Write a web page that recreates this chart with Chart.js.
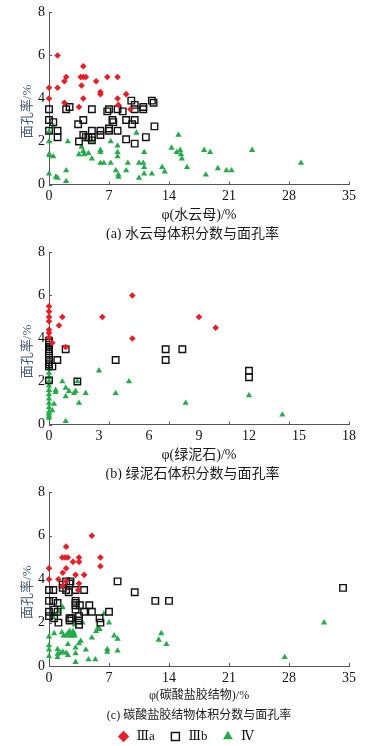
<!DOCTYPE html>
<html>
<head>
<meta charset="utf-8">
<script src="https://cdn.jsdelivr.net/npm/chart.js@4.4.1/dist/chart.umd.min.js"></script>
<style>
  html, body { margin: 0; padding: 0; background: #fff; overflow: hidden; }
  .panel { position: relative; width: 385px; }
</style>
</head>
<body>
<div class="panel" style="height:240px"><canvas id="chartA"></canvas></div>
<div class="panel" style="height:240px"><canvas id="chartB"></canvas></div>
<div class="panel" style="height:273px"><canvas id="chartC"></canvas></div>
<script>
// tick labels
const xTicks35 = [0, 7, 14, 21, 28, 35];
const xTicks18 = [0, 3, 6, 9, 12, 15, 18];
const yTicks = [0, 2, 4, 6, 8];
// tick marks on panel (b) do not line up with its labels in the original
const xMarks18 = [0, 3.6, 7.2, 10.8, 14.4, 18];

const seriesNames = ['Ⅲa', 'Ⅲb', 'Ⅳ'];

// (a) 水云母 [volume fraction %, face porosity %]
const illiteIIIa = [[0,4.5],[0,4.0],[1.0,6.0],[1.0,4.5],[2.0,5.0],[1.8,4.8],[1.8,3.8],[3.5,3.6],[4.0,5.5],[3.7,5.0],[4.0,5.0],[4.3,5.0],[3.8,4.6],[4.0,4.0],[5.5,4.8],[6.0,4.3],[6.0,4.2],[6.8,5.0],[8.0,5.0],[8.0,4.0],[8.1,3.7],[9.0,4.2],[9.5,3.5]];
const illiteIIIb = [[0,3.5],[0,3.0],[0,2.5],[0.5,2.9],[1.0,2.5],[1.0,2.2],[2.0,3.5],[2.4,3.6],[3.4,2.8],[4.0,3.0],[3.5,2.0],[4.0,2.3],[4.3,2.2],[4.6,2.2],[5.0,3.5],[5.0,2.5],[5.0,2.2],[5.0,2.05],[6.0,2.5],[6.0,2.3],[6.8,3.4],[7.0,3.5],[7.0,2.6],[7.0,2.5],[7.4,3.0],[7.5,2.9],[8.0,3.5],[8.0,2.5],[8.6,3.4],[9.0,3.0],[9.0,2.1],[9.6,3.9],[9.7,2.8],[10.0,3.7],[10.0,3.5],[10.0,3.0],[10.0,1.9],[11.0,3.6],[11.0,3.5],[11.3,2.2],[12.0,3.9],[12.2,3.8],[12.3,2.7]];
const illiteIV = [[0,2.0],[0,2.45],[0,1.4],[0.1,1.35],[0,0.5],[0.5,2.7],[0.5,1.3],[0.8,0.35],[1.0,0.3],[2.0,0.65],[2.0,0.15],[2.2,2.0],[3.5,1.4],[3.8,1.75],[4.0,1.55],[4.1,1.4],[4.6,1.45],[5.0,2.0],[5.0,1.2],[6.0,1.6],[6.0,1.5],[6.0,1.0],[6.4,1.0],[7.2,2.0],[7.2,1.0],[7.8,0.65],[8.0,1.8],[8.0,1.5],[8.0,1.3],[8.1,0.45],[8.1,0.35],[9.2,1.0],[9.0,0.65],[10.2,2.4],[10.5,1.0],[11.0,1.0],[10.5,0.3],[11.1,1.5],[11.1,0.8],[11.1,0.5],[12.0,0.5],[13.2,0.8],[13.5,0.6],[14.3,1.7],[14.9,1.5],[15.1,2.3],[15.3,1.6],[15.4,1.4],[15.5,1.2],[16.1,0.8],[18.1,1.6],[18.8,1.5],[18.3,0.45],[19.7,0.75],[20.7,0.65],[21.3,0.65],[23.7,1.6],[29.4,1.0]];

// (b) 绿泥石
const chloriteIIIa = [[0,5.5],[0,5.25],[0,5.0],[0,4.8],[0,4.4],[0,4.25],[0,4.05],[0.2,3.8],[0.6,4.6],[0.8,5.0],[1.0,3.6],[3.2,5.0],[5.0,6.0],[5.0,4.0],[9.0,5.0],[10.0,4.5]];
const chloriteIIIb = [[0,3.9],[0,3.8],[0,3.7],[0,3.6],[0,3.5],[0,3.4],[0,3.3],[0,3.0],[0,2.9],[0,2.8],[0,2.7],[0,2.05],[0.2,2.7],[0.5,3.0],[1.0,3.5],[1.7,2.0],[4.0,3.0],[7.0,3.5],[7.0,3.0],[8.0,3.5],[12.0,2.5],[12.0,2.2]];
const chloriteIV = [[0,2.6],[0,2.4],[0,2.2],[0,2.0],[0,1.8],[0,1.6],[0,1.4],[0,1.2],[0,1.0],[0,0.8],[0,0.6],[0,0.5],[0,0.4],[0,0.3],[0.2,0.65],[0.3,0.95],[0.4,1.6],[0.4,1.5],[0.8,2.0],[1.0,1.7],[1.0,1.3],[1.0,0.15],[1.2,1.55],[1.5,1.45],[1.6,1.55],[1.7,2.0],[1.8,1.0],[2.2,1.45],[3.0,2.5],[4.0,1.45],[4.8,2.0],[8.2,1.0],[12.0,1.35],[14.0,0.45]];

// (c) 碳酸盐胶结物
const carbonateIIIa = [[0,4.5],[0,4.0],[1.1,4.0],[1.6,4.3],[1.55,5.0],[1.9,5.0],[2.2,5.0],[2.0,5.5],[2.0,4.5],[1.6,3.7],[2.0,3.9],[2.8,4.8],[3.1,4.2],[3.5,4.8],[3.5,5.0],[3.5,3.8],[4.1,4.2],[5.0,6.0],[6.0,5.0],[6.0,4.6],[3.4,3.5]];
const carbonateIIIb = [[0,3.5],[0,3.0],[0,2.5],[0,2.3],[0.5,3.5],[0.5,3.0],[0.6,2.6],[0.6,2.2],[1.0,2.9],[1.0,2.5],[1.1,2.0],[1.6,3.75],[1.6,3.6],[2.0,3.9],[2.0,3.5],[2.3,3.4],[2.5,3.9],[2.4,3.8],[2.4,2.2],[2.6,2.2],[2.4,2.1],[3.1,3.0],[3.1,2.9],[3.1,2.8],[3.1,2.6],[3.1,3.5],[3.6,2.8],[3.5,2.3],[3.5,2.1],[3.5,1.9],[4.1,3.5],[4.1,2.5],[4.7,2.8],[5.0,2.5],[5.9,2.2],[6.0,2.0],[7.0,2.5],[8.0,3.9],[10.0,3.4],[12.4,3.0],[14.0,3.0],[34.3,3.6]];
const carbonateIV = [[0,1.35],[0,0.95],[0,0.75],[0,0.45],[0.5,2.25],[0.6,1.5],[1.0,0.77],[1.0,0.55],[1.0,0.4],[1.1,2.5],[1.6,2.7],[1.5,1.55],[1.7,1.4],[1.3,0.6],[1.6,0.65],[2.0,1.4],[2.2,1.5],[2.4,1.6],[2.5,1.4],[2.7,1.4],[2.8,1.6],[2.9,1.5],[3.0,1.4],[2.2,1.0],[2.0,0.6],[2.2,0.5],[3.1,0.84],[3.1,0.58],[3.1,0.18],[3.5,1.04],[3.7,1.15],[3.0,1.9],[3.9,2.0],[4.3,0.75],[4.6,0.3],[5.0,1.3],[5.4,0.3],[5.5,1.6],[5.7,1.75],[5.9,1.7],[6.4,2.4],[6.8,0.77],[6.8,0.65],[7.0,2.0],[7.6,1.4],[8.0,1.25],[8.0,0.7],[12.8,1.2],[13.1,1.5],[13.7,1.0],[27.5,0.4],[32.1,2.0]];

const RED = '#ec1c24';
const GREEN = '#22ad48';
const AXIS = '#555';
const serif = "'Liberation Serif', 'DejaVu Serif', 'Noto Sans CJK SC', serif";
const cjk = "'Liberation Serif', 'Noto Sans CJK SC', sans-serif";

const toXY = arr => arr.map(p => ({ x: p[0], y: p[1] }));

function datasets(a, b, c) {
  return [
    { label: seriesNames[0], data: toXY(a), pointStyle: 'rectRot', radius: 3.3,
      backgroundColor: RED, borderColor: RED, borderWidth: 0, clip: false },
    { label: seriesNames[1], data: toXY(b), pointStyle: 'rect', radius: 4.6,
      backgroundColor: 'rgba(255,255,255,0)', borderColor: '#111', borderWidth: 1.4, clip: false },
    { label: seriesNames[2], data: toXY(c), pointStyle: 'triangle', radius: 3.6,
      backgroundColor: GREEN, borderColor: GREEN, borderWidth: 0, clip: false }
  ];
}

// short inward tick marks on both axes
function innerTicks(xMarks) {
  return {
    id: 'innerTicks',
    beforeDatasetsDraw(chart) {
      const { ctx, chartArea, scales } = chart;
      ctx.save();
      ctx.strokeStyle = AXIS;
      ctx.lineWidth = 1;
      ctx.beginPath();
      xMarks.forEach(v => {
        const px = Math.round(scales.x.getPixelForValue(v)) + 0.5;
        ctx.moveTo(px, chartArea.bottom);
        ctx.lineTo(px, chartArea.bottom - 3);
      });
      yTicks.forEach(v => {
        const py = Math.round(scales.y.getPixelForValue(v)) + 0.5;
        ctx.moveTo(chartArea.left, py);
        ctx.lineTo(chartArea.left + 3, py);
      });
      ctx.stroke();
      ctx.restore();
    }
  };
}

function makeChart(id, sets, cfg) {
  new Chart(document.getElementById(id), {
    type: 'scatter',
    data: { datasets: sets },
    options: {
      responsive: true,
      maintainAspectRatio: false,
      animation: false,
      events: [],
      layout: { padding: { top: 12, left: 0, right: cfg.padRight || 0, bottom: 0 } },
      plugins: {
        legend: {
          display: !!cfg.legend,
          position: 'bottom',
          weight: 3000,
          labels: {
            usePointStyle: true,
            boxHeight: 8,
            padding: 14,
            color: '#111',
            font: { family: serif, size: 13 }
          }
        },
        title: {
          display: true,
          position: 'bottom',
          fullSize: !cfg.legend,
          text: cfg.caption,
          color: '#1a1a1a',
          padding: cfg.captionPad,
          font: { family: cjk, size: cfg.textSize, weight: 'normal' }
        },
        tooltip: { enabled: false }
      },
      scales: {
        x: {
          type: 'linear',
          min: 0,
          max: cfg.xMax,
          afterBuildTicks: s => { s.ticks = cfg.xTicks.map(v => ({ value: v })); },
          afterFit: s => { s.height = 37.5; },
          grid: { display: false, drawTicks: false },
          border: { display: true, color: AXIS, width: 1 },
          ticks: { color: '#111', padding: 3.5, font: { family: serif, size: 14 } },
          title: {
            display: true,
            text: cfg.xTitle,
            color: '#1a1a1a',
            padding: { top: 0, bottom: cfg.xTitlePad },
            font: { family: cjk, size: cfg.textSize }
          }
        },
        y: {
          type: 'linear',
          min: 0,
          max: 8,
          afterBuildTicks: s => { s.ticks = yTicks.map(v => ({ value: v })); },
          afterFit: s => { s.width = 49; },
          grid: { display: false, drawTicks: false },
          border: { display: true, color: AXIS, width: 1 },
          ticks: { color: '#111', padding: 4, font: { family: serif, size: 14 } },
          title: {
            display: true,
            text: '面孔率/%\u3000\u3000',
            color: '#3f5b7c',
            padding: { top: 20, bottom: 0 },
            font: { family: cjk, size: 13 }
          }
        },
        pad: {
          position: 'right',
          display: true,
          grid: { display: false, drawTicks: false },
          border: { display: false },
          ticks: { display: false },
          afterFit: s => { s.width = 36 - (cfg.padRight || 0); }
        }
      }
    },
    plugins: [innerTicks(cfg.xMarks)]
  });
}

makeChart('chartA', datasets(illiteIIIa, illiteIIIb, illiteIV), {
  xMax: 35, xTicks: xTicks35, xMarks: xTicks35, textSize: 14,
  xTitle: 'φ(水云母)/%', xTitlePad: -1.7,
  caption: '(a) 水云母体积分数与面孔率', captionPad: { top: 4, bottom: -2.8 }
});
makeChart('chartB', datasets(chloriteIIIa, chloriteIIIb, chloriteIV), {
  xMax: 18, xTicks: xTicks18, xMarks: xMarks18, textSize: 14,
  xTitle: 'φ(绿泥石)/%', xTitlePad: -1.7,
  caption: '(b) 绿泥石体积分数与面孔率', captionPad: { top: 4, bottom: -2.8 }
});
makeChart('chartC', datasets(carbonateIIIa, carbonateIIIb, carbonateIV), {
  xMax: 35, xTicks: xTicks35, xMarks: xTicks35, textSize: 12,
  xTitle: 'φ(碳酸盐胶结物)/%', xTitlePad: 0.5,
  caption: '(c) 碳酸盐胶结物体积分数与面孔率', captionPad: { top: 4.8, bottom: -6.7 },
  legend: true, padRight: 14
});
</script>
</body>
</html>
